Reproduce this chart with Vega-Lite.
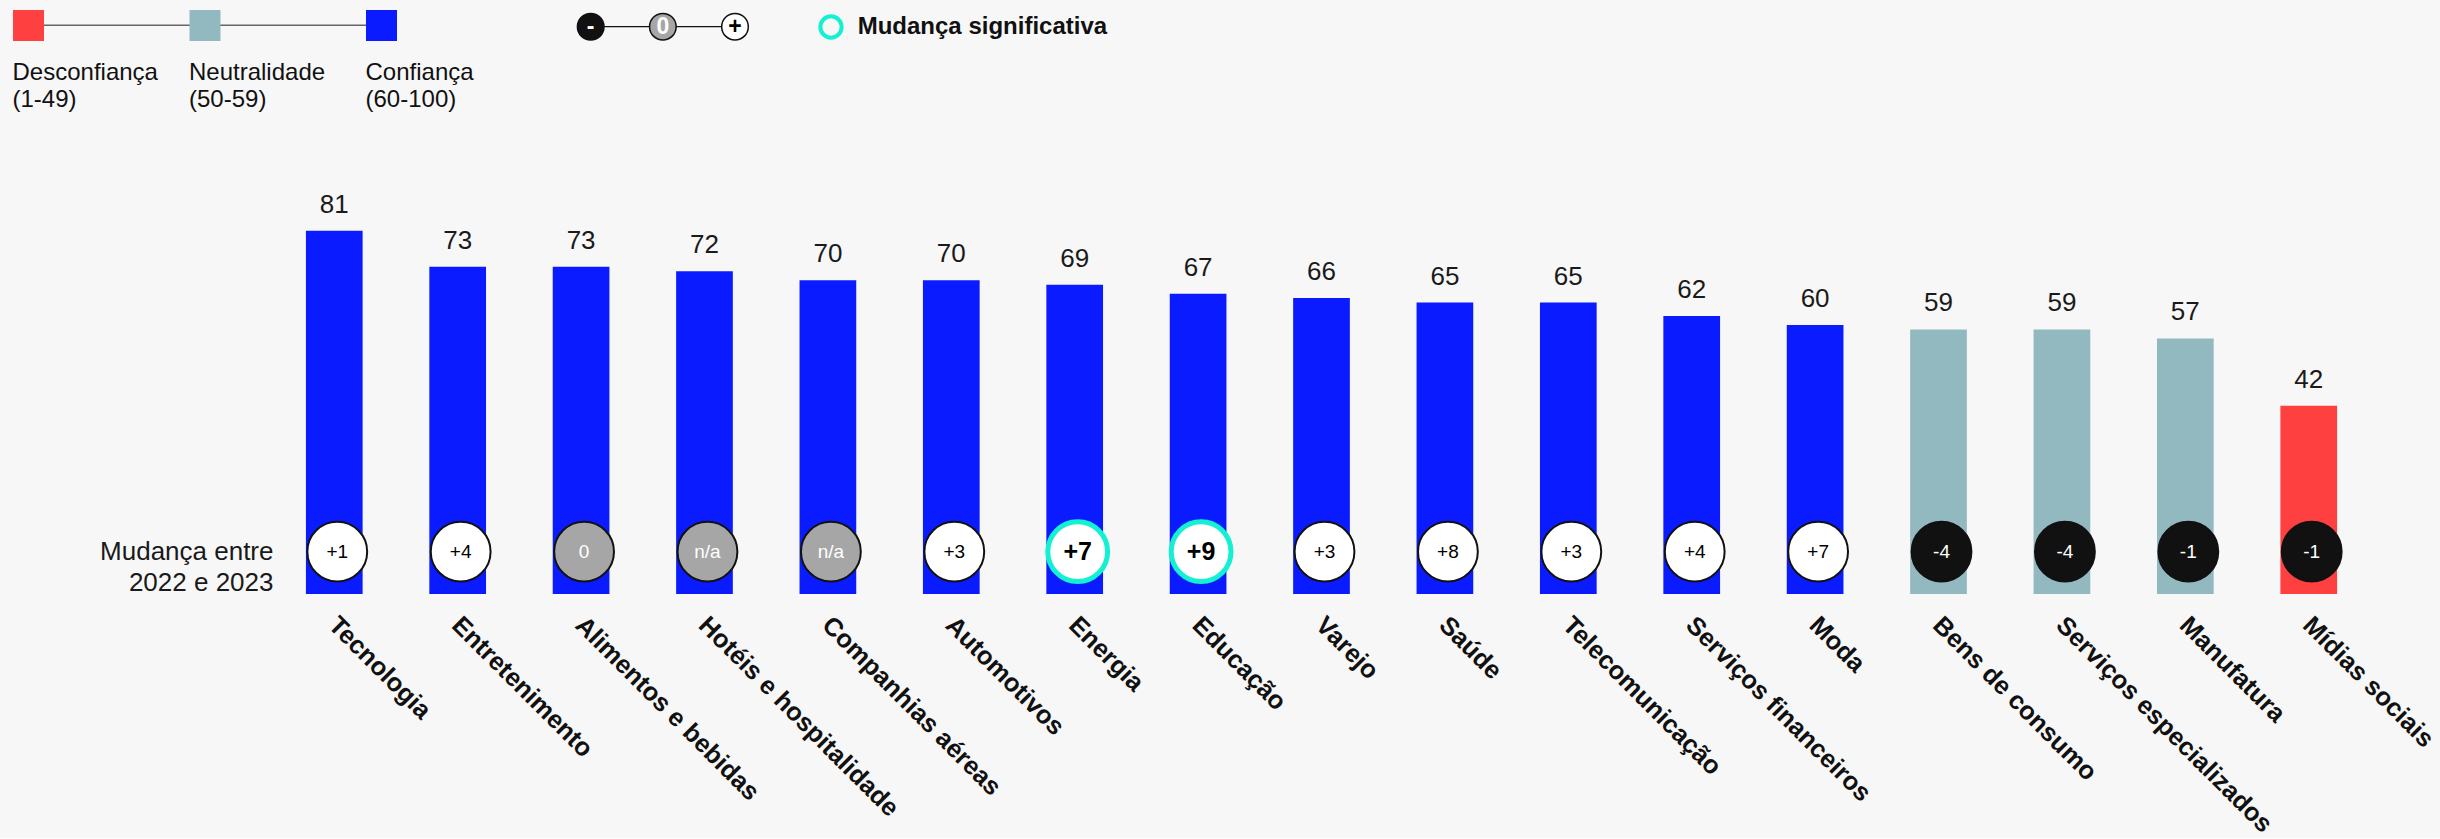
{
  "$schema": "https://vega.github.io/schema/vega-lite/v6.json",
  "background": "#f7f7f7",
  "padding": 0,
  "spacing": 0,
  "config": {"view": {"stroke": null}, "font": "Liberation Sans"},
  "datasets": {
    "setores": [
      {"setor": "Tecnologia", "valor": 81, "nivel": "Confiança", "mudanca": "+1", "tipo": "pos", "sig": false},
      {"setor": "Entretenimento", "valor": 73, "nivel": "Confiança", "mudanca": "+4", "tipo": "pos", "sig": false},
      {"setor": "Alimentos e bebidas", "valor": 73, "nivel": "Confiança", "mudanca": "0", "tipo": "zero", "sig": false},
      {"setor": "Hotéis e hospitalidade", "valor": 72, "nivel": "Confiança", "mudanca": "n/a", "tipo": "zero", "sig": false},
      {"setor": "Companhias aéreas", "valor": 70, "nivel": "Confiança", "mudanca": "n/a", "tipo": "zero", "sig": false},
      {"setor": "Automotivos", "valor": 70, "nivel": "Confiança", "mudanca": "+3", "tipo": "pos", "sig": false},
      {"setor": "Energia", "valor": 69, "nivel": "Confiança", "mudanca": "+7", "tipo": "pos", "sig": true},
      {"setor": "Educação", "valor": 67, "nivel": "Confiança", "mudanca": "+9", "tipo": "pos", "sig": true},
      {"setor": "Varejo", "valor": 66, "nivel": "Confiança", "mudanca": "+3", "tipo": "pos", "sig": false},
      {"setor": "Saúde", "valor": 65, "nivel": "Confiança", "mudanca": "+8", "tipo": "pos", "sig": false},
      {"setor": "Telecomunicação", "valor": 65, "nivel": "Confiança", "mudanca": "+3", "tipo": "pos", "sig": false},
      {"setor": "Serviços financeiros", "valor": 62, "nivel": "Confiança", "mudanca": "+4", "tipo": "pos", "sig": false},
      {"setor": "Moda", "valor": 60, "nivel": "Confiança", "mudanca": "+7", "tipo": "pos", "sig": false},
      {"setor": "Bens de consumo", "valor": 59, "nivel": "Neutralidade", "mudanca": "-4", "tipo": "neg", "sig": false},
      {"setor": "Serviços especializados", "valor": 59, "nivel": "Neutralidade", "mudanca": "-4", "tipo": "neg", "sig": false},
      {"setor": "Manufatura", "valor": 57, "nivel": "Neutralidade", "mudanca": "-1", "tipo": "neg", "sig": false},
      {"setor": "Mídias sociais", "valor": 42, "nivel": "Desconfiança", "mudanca": "-1", "tipo": "neg", "sig": false}
    ],
    "niveis": [
      {"nivel": "Desconfiança", "rotulo": "Desconfiança\n(1-49)", "ordem": 0},
      {"nivel": "Neutralidade", "rotulo": "Neutralidade\n(50-59)", "ordem": 1},
      {"nivel": "Confiança", "rotulo": "Confiança\n(60-100)", "ordem": 2}
    ],
    "sinais": [
      {"sinal": "-", "tipo": "neg", "ordem": 0},
      {"sinal": "0", "tipo": "zero", "ordem": 1},
      {"sinal": "+", "tipo": "pos", "ordem": 2}
    ]
  },
  "vconcat": [
    {
      "width": 2440,
      "height": 120,
      "resolve": {"scale": {"x": "independent"}},
      "layer": [
        {
          "data": {"values": [{}]},
          "mark": {"type": "rule", "color": "#666666", "strokeWidth": 1.5},
          "encoding": {
            "x": {"datum": 0, "type": "quantitative", "scale": {"domain": [0, 2], "range": [28.5, 381.5]}, "axis": null},
            "x2": {"datum": 2},
            "y": {"datum": 2.53, "type": "quantitative", "scale": {"domain": [0, 12], "reverse": true}, "axis": null}
          }
        },
        {
          "data": {"name": "niveis"},
          "mark": {"type": "square", "size": 961, "filled": true, "opacity": 1},
          "encoding": {
            "x": {"field": "ordem", "type": "quantitative", "scale": {"domain": [0, 2], "range": [28.5, 381.5]}, "axis": null},
            "y": {"datum": 2.55, "type": "quantitative", "scale": {"domain": [0, 12], "reverse": true}, "axis": null},
            "color": {"field": "nivel", "type": "nominal", "scale": {"domain": ["Desconfiança", "Neutralidade", "Confiança"], "range": ["#ff4040", "#93b9c0", "#0a1cff"]}, "legend": null}
          }
        },
        {
          "data": {"name": "niveis"},
          "mark": {"type": "text", "align": "left", "baseline": "alphabetic", "dx": -16, "fontSize": 24, "lineBreak": "\n", "lineHeight": 27, "color": "#111111"},
          "encoding": {
            "x": {"field": "ordem", "type": "quantitative", "scale": {"domain": [0, 2], "range": [28.5, 381.5]}, "axis": null},
            "y": {"datum": 8.0, "type": "quantitative", "scale": {"domain": [0, 12], "reverse": true}, "axis": null},
            "text": {"field": "rotulo"}
          }
        },
        {
          "data": {"values": [{}]},
          "mark": {"type": "rule", "color": "#111111", "strokeWidth": 1.3},
          "encoding": {
            "x": {"datum": 0, "type": "quantitative", "scale": {"domain": [0, 2], "range": [590.7, 735]}, "axis": null},
            "x2": {"datum": 2},
            "y": {"datum": 2.67, "type": "quantitative", "scale": {"domain": [0, 12], "reverse": true}, "axis": null}
          }
        },
        {
          "data": {"name": "sinais"},
          "mark": {"type": "circle", "size": 707, "opacity": 1, "stroke": "#111111", "strokeWidth": 1.5},
          "encoding": {
            "x": {"field": "ordem", "type": "quantitative", "scale": {"domain": [0, 2], "range": [590.7, 735]}, "axis": null},
            "y": {"datum": 2.67, "type": "quantitative", "scale": {"domain": [0, 12], "reverse": true}, "axis": null},
            "fill": {"field": "tipo", "type": "nominal", "scale": {"domain": ["pos", "zero", "neg"], "range": ["#ffffff", "#a6a6a6", "#111111"]}, "legend": null}
          }
        },
        {
          "data": {"name": "sinais"},
          "mark": {"type": "text", "align": "center", "baseline": "middle", "fontSize": 23, "fontWeight": "bold"},
          "encoding": {
            "x": {"field": "ordem", "type": "quantitative", "scale": {"domain": [0, 2], "range": [590.7, 735]}, "axis": null},
            "y": {"datum": 2.67, "type": "quantitative", "scale": {"domain": [0, 12], "reverse": true}, "axis": null},
            "text": {"field": "sinal"},
            "color": {"condition": {"test": "datum.tipo == 'pos'", "value": "#000000"}, "value": "#ffffff"}
          }
        },
        {
          "data": {"values": [{}]},
          "mark": {"type": "circle", "size": 452, "filled": false, "stroke": "#14f0d2", "strokeWidth": 4, "opacity": 1},
          "encoding": {
            "x": {"datum": 0, "type": "quantitative", "scale": {"domain": [0, 1], "range": [831, 857.7]}, "axis": null},
            "y": {"datum": 2.7, "type": "quantitative", "scale": {"domain": [0, 12], "reverse": true}, "axis": null}
          }
        },
        {
          "data": {"values": [{}]},
          "mark": {"type": "text", "align": "left", "baseline": "middle", "fontSize": 24, "fontWeight": "bold", "color": "#111111"},
          "encoding": {
            "x": {"datum": 1, "type": "quantitative", "scale": {"domain": [0, 1], "range": [831, 857.7]}, "axis": null},
            "y": {"datum": 2.7, "type": "quantitative", "scale": {"domain": [0, 12], "reverse": true}, "axis": null},
            "text": {"value": "Mudança significativa"}
          }
        }
      ]
    },
    {
      "width": 2440,
      "height": 474,
      "data": {"name": "setores"},
      "encoding": {
        "x": {
          "field": "setor", "type": "nominal", "sort": null,
          "scale": {"range": [272.6, 2370.4], "paddingInner": 0.5405, "paddingOuter": 0.27, "align": 0.5, "round": false},
          "axis": {"title": null, "labelAngle": 45, "labelAlign": "left", "labelBaseline": "top", "labelFontSize": 25.5, "labelFontWeight": "bold", "labelColor": "#111111", "ticks": false, "domain": false, "labelPadding": 18, "labelOffset": 7, "labelLimit": 1000}
        }
      },
      "layer": [
        {
          "mark": {"type": "bar"},
          "encoding": {
            "y": {
              "field": "valor", "type": "quantitative",
              "scale": {"domain": [0, 105.73], "nice": false, "zero": false},
              "axis": {"values": [9.44], "labelExpr": "['Mudança entre', '2022 e 2023']", "offset": -273, "ticks": false, "domain": false, "grid": false, "labelPadding": 0, "labelFontSize": 26, "labelAlign": "right", "labelBaseline": "middle", "labelLineHeight": 31, "labelColor": "#1a1a1a", "title": null}
            },
            "color": {"field": "nivel", "type": "nominal", "scale": {"domain": ["Desconfiança", "Neutralidade", "Confiança"], "range": ["#ff4040", "#93b9c0", "#0a1cff"]}, "legend": null}
          }
        },
        {
          "mark": {"type": "text", "baseline": "alphabetic", "dy": -18, "fontSize": 26, "color": "#1a1a1a"},
          "encoding": {
            "y": {"field": "valor", "type": "quantitative"},
            "text": {"field": "valor", "type": "quantitative"}
          }
        },
        {
          "mark": {"type": "circle", "size": 3578, "opacity": 1, "xOffset": 3},
          "encoding": {
            "y": {"datum": 9.44, "type": "quantitative"},
            "fill": {"field": "tipo", "type": "nominal", "scale": {"domain": ["pos", "zero", "neg"], "range": ["#ffffff", "#a6a6a6", "#000000"]}, "legend": null},
            "stroke": {"condition": {"test": "datum.sig", "value": "#14f0d2"}, "value": "#111111"},
            "strokeWidth": {"condition": {"test": "datum.sig", "value": 5}, "value": 2}
          }
        },
        {
          "transform": [{"filter": "!datum.sig"}],
          "mark": {"type": "text", "baseline": "middle", "fontSize": 19, "xOffset": 3},
          "encoding": {
            "y": {"datum": 9.44, "type": "quantitative"},
            "text": {"field": "mudanca"},
            "color": {"condition": {"test": "datum.tipo == 'pos'", "value": "#000000"}, "value": "#ffffff"}
          }
        },
        {
          "transform": [{"filter": "datum.sig"}],
          "mark": {"type": "text", "baseline": "middle", "fontSize": 25, "fontWeight": "bold", "xOffset": 3, "color": "#000000"},
          "encoding": {
            "y": {"datum": 9.44, "type": "quantitative"},
            "text": {"field": "mudanca"}
          }
        }
      ]
    }
  ]
}
